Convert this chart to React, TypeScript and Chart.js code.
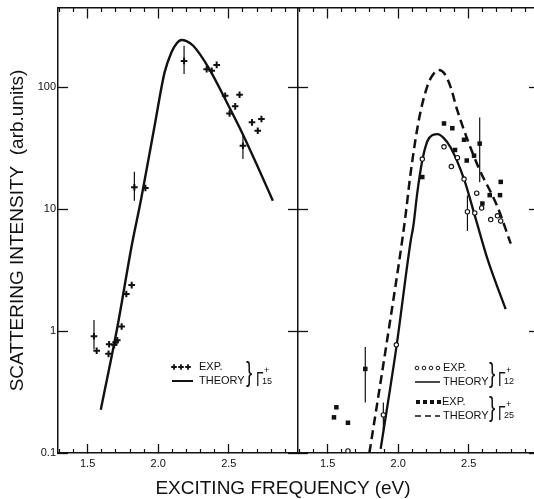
import React, { useEffect, useRef } from "react";
import { Chart, registerables } from "chart.js";

Chart.register(...registerables);

const FONT = "'Liberation Sans', Arial, Helvetica, sans-serif";
const BLACK = "#111";

// ---------- axes ----------
const yMin = 0.1;
const yMax = 445;
const yTickValues = [0.1, 1, 10, 100];
const yTickLabels = ["0.1", "1", "10", "100"];
const xMajorTicks = [1.5, 2.0, 2.5];
const xTickLabels = ["1.5", "2.0", "2.5"];
const xMinorTicks = [1.3, 1.4, 1.6, 1.7, 1.8, 1.9, 2.1, 2.2, 2.3, 2.4, 2.6, 2.7, 2.8, 2.9];
const leftXRange = [1.29, 2.99];
const rightXRange = [1.29, 2.97];

// ---------- left panel: Γ15+ ----------
const g15ExpX = [1.545, 1.564, 1.648, 1.652, 1.688, 1.698, 1.71, 1.741, 1.774, 1.812, 1.831, 1.909, 2.183, 2.343, 2.379, 2.414, 2.474, 2.505, 2.545, 2.576, 2.6, 2.664, 2.705, 2.731];
const g15ExpY = [0.906, 0.69, 0.65, 0.78, 0.77, 0.81, 0.84, 1.09, 2.01, 2.38, 15.1, 14.9, 164, 140, 136, 152, 85, 60.8, 69.5, 86.5, 33, 51.4, 43.9, 54.7];
const g15ErrX = [1.545, 1.831, 2.183, 2.6];
const g15ErrLo = [0.71, 11.7, 128, 25.7];
const g15ErrHi = [1.23, 20.2, 218, 41.2];
const g15TheoryX = [1.593, 1.712, 1.812, 1.879, 1.974, 2.045, 2.093, 2.13, 2.164, 2.2, 2.248, 2.355, 2.498, 2.593, 2.712, 2.812];
const g15TheoryY = [0.226, 1.1, 5.0, 12.1, 48, 132, 192, 228, 243, 238, 218, 145, 70.3, 42.5, 21.3, 11.7];

// ---------- right panel: Γ12+ and Γ25+ ----------
const g12ExpX = [1.644, 1.895, 1.987, 2.171, 2.325, 2.377, 2.42, 2.467, 2.491, 2.543, 2.557, 2.592, 2.656, 2.704, 2.727];
const g12ExpY = [0.104, 0.205, 0.77, 25.7, 32.4, 22.3, 26.4, 17.6, 9.5, 9.3, 13.5, 10.2, 8.2, 8.8, 8.0];
const g12ErrX = [1.895, 2.491];
const g12ErrLo = [0.155, 6.6];
const g12ErrHi = [0.26, 12.9];
const g12TheoryX = [1.876, 1.989, 2.089, 2.108, 2.136, 2.171, 2.207, 2.245, 2.28, 2.32, 2.372, 2.467, 2.55, 2.633, 2.762];
const g12TheoryY = [0.108, 0.76, 5.5, 7.3, 13.7, 25, 36, 40.5, 41.2, 38.5, 32, 17.6, 8.3, 3.9, 1.51];

const g25ExpX = [1.545, 1.562, 1.644, 1.767, 2.171, 2.325, 2.384, 2.403, 2.467, 2.486, 2.538, 2.578, 2.597, 2.649, 2.722, 2.727];
const g25ExpY = [0.196, 0.237, 0.177, 0.489, 18.3, 50.3, 46, 30.5, 37, 25, 27.4, 34.4, 11.1, 13, 13, 16.7];
const g25ErrX = [1.767, 2.578];
const g25ErrLo = [0.26, 16.6];
const g25ErrHi = [0.74, 56.4];
const g25TheoryX = [1.796, 1.923, 2.03, 2.053, 2.089, 2.148, 2.207, 2.25, 2.289, 2.33, 2.372, 2.42, 2.562, 2.703, 2.798];
const g25TheoryY = [0.1, 0.86, 5.67, 9, 20, 54.7, 102, 128, 138, 128, 100, 64, 23, 10.5, 5.2];

// ---------- helpers ----------
function pts(xs: number[], ys: number[]) {
  return xs.map((x, i) => ({ x, y: ys[i] }));
}
function errSegs(xs: number[], lo: number[], hi: number[]) {
  const out: any[] = [];
  xs.forEach((x, i) => {
    out.push({ x, y: lo[i] }, { x, y: hi[i] }, { x, y: null });
  });
  return out;
}
const setTicks = (vals: number[]) => (s: any) => {
  s.ticks = vals.map((v) => ({ value: v }));
};
const noPad = (s: any) => {
  s.paddingTop = 0;
  s.paddingBottom = 0;
  s.paddingLeft = 0;
  s.paddingRight = 0;
};

function buildScales(range: number[], o: { leftWidth: number; rightWidth: number; labels: boolean; leftBorder: boolean; rightTick: number; title?: string }) {
  const xBase = { type: "linear", axis: "x", min: range[0], max: range[1], afterFit: noPad };
  const yBase = { type: "logarithmic", axis: "y", min: yMin, max: yMax };
  return {
    x: {
      ...xBase,
      position: "bottom",
      afterBuildTicks: setTicks(xMajorTicks),
      ticks: {
        autoSkip: false,
        maxRotation: 0,
        padding: 13,
        color: BLACK,
        font: { size: 11, family: FONT },
        callback: (v: number) => {
          const i = xMajorTicks.indexOf(v);
          return i >= 0 ? xTickLabels[i] : "";
        },
      },
      grid: { drawOnChartArea: false, drawTicks: true, tickLength: -9, tickColor: BLACK, tickWidth: 1.3 },
      border: { display: true, color: BLACK, width: 1.5 },
      afterFit: (s: any) => {
        noPad(s);
        s.height = 46;
      },
    },
    xMinor: {
      ...xBase,
      position: { y: yMin },
      afterBuildTicks: setTicks(xMinorTicks),
      ticks: { display: false },
      grid: { drawOnChartArea: false, drawTicks: true, tickLength: -4, tickColor: BLACK, tickWidth: 1.2 },
      border: { display: false },
    },
    xTop: {
      ...xBase,
      position: { y: yMax },
      afterBuildTicks: setTicks(xMajorTicks),
      ticks: { display: false },
      grid: { drawOnChartArea: false, drawTicks: true, tickLength: 10, tickColor: BLACK, tickWidth: 1.3 },
      border: { display: true, color: BLACK, width: 1.5 },
    },
    xTopMinor: {
      ...xBase,
      position: { y: yMax },
      afterBuildTicks: setTicks(xMinorTicks),
      ticks: { display: false },
      grid: { drawOnChartArea: false, drawTicks: true, tickLength: 4, tickColor: BLACK, tickWidth: 1.2 },
      border: { display: false },
    },
    y: {
      ...yBase,
      position: "left",
      afterBuildTicks: setTicks(yTickValues),
      ticks: {
        display: o.labels,
        padding: 12,
        color: BLACK,
        font: { size: 11, family: FONT },
        callback: (v: number) => {
          const i = yTickValues.indexOf(v);
          return i >= 0 ? yTickLabels[i] : "";
        },
      },
      grid: { drawOnChartArea: false, drawTicks: true, tickLength: -10, tickColor: BLACK, tickWidth: 1.3 },
      border: { display: o.leftBorder, color: BLACK, width: 1.5 },
      title: o.title
        ? { display: true, text: o.title, color: BLACK, font: { size: 19, family: FONT }, padding: { top: 6, bottom: 0 } }
        : { display: false },
      afterFit: (s: any) => {
        noPad(s);
        s.width = o.leftWidth;
      },
    },
    y2: {
      ...yBase,
      position: "right",
      afterBuildTicks: setTicks(yTickValues),
      ticks: { display: false },
      grid: { drawOnChartArea: false, drawTicks: true, tickLength: -o.rightTick, tickColor: BLACK, tickWidth: 1.3 },
      border: { display: true, color: BLACK, width: 1.5 },
      afterFit: (s: any) => {
        noPad(s);
        s.width = o.rightWidth;
      },
    },
  };
}

// ---------- legend drawing ----------
function txt(ctx: CanvasRenderingContext2D, s: string, x: number, y: number, size: number) {
  ctx.save();
  ctx.fillStyle = BLACK;
  ctx.font = `${size}px ${FONT}`;
  ctx.textAlign = "left";
  ctx.textBaseline = "middle";
  ctx.fillText(s, x, y);
  ctx.restore();
}
function brace(ctx: CanvasRenderingContext2D, x: number, y: number) {
  ctx.save();
  ctx.translate(x, y);
  ctx.scale(0.7, 1);
  ctx.fillStyle = BLACK;
  ctx.font = `27px ${FONT}`;
  ctx.textBaseline = "middle";
  ctx.fillText("}", 0, 0);
  ctx.restore();
}
function gamma(ctx: CanvasRenderingContext2D, x: number, base: number, sub: string) {
  ctx.save();
  ctx.translate(x, base);
  ctx.scale(0.65, 1);
  ctx.fillStyle = BLACK;
  ctx.font = `21px ${FONT}`;
  ctx.textBaseline = "alphabetic";
  ctx.fillText("Γ", 0, 0);
  ctx.restore();
  txt(ctx, sub, x + 6, base - 4, 9);
  txt(ctx, "+", x + 8, base - 15, 9);
}
function hline(ctx: CanvasRenderingContext2D, x1: number, x2: number, y: number, w: number, dash: number[] = []) {
  ctx.save();
  ctx.strokeStyle = BLACK;
  ctx.lineWidth = w;
  ctx.setLineDash(dash);
  ctx.beginPath();
  ctx.moveTo(x1, y);
  ctx.lineTo(x2, y);
  ctx.stroke();
  ctx.restore();
}

const leftLegend = {
  id: "leftLegend",
  afterDraw(chart: any) {
    const ctx = chart.ctx as CanvasRenderingContext2D;
    ctx.save();
    ctx.strokeStyle = BLACK;
    ctx.lineWidth = 1.8;
    [174, 181, 188].forEach((cx) => {
      ctx.beginPath();
      ctx.moveTo(cx - 2.8, 367);
      ctx.lineTo(cx + 2.8, 367);
      ctx.moveTo(cx, 364.2);
      ctx.lineTo(cx, 369.8);
      ctx.stroke();
    });
    ctx.restore();
    txt(ctx, "EXP.", 199, 367, 11);
    hline(ctx, 172, 193, 381, 2);
    txt(ctx, "THEORY", 199, 381, 11);
    brace(ctx, 246, 374);
    gamma(ctx, 256, 386, "15");
  },
};

const OFF = 290;
const rightLegend = {
  id: "rightLegend",
  afterDraw(chart: any) {
    const ctx = chart.ctx as CanvasRenderingContext2D;
    ctx.save();
    ctx.strokeStyle = BLACK;
    ctx.fillStyle = "#fff";
    ctx.lineWidth = 1;
    [417, 424, 431, 438].forEach((cx) => {
      ctx.beginPath();
      ctx.arc(cx - OFF, 368, 1.8, 0, Math.PI * 2);
      ctx.fill();
      ctx.stroke();
    });
    ctx.fillStyle = BLACK;
    [418, 425, 432, 439].forEach((cx) => {
      ctx.fillRect(cx - OFF - 2, 400, 4, 4);
    });
    ctx.restore();
    txt(ctx, "EXP.", 443 - OFF, 368, 11);
    hline(ctx, 415 - OFF, 440 - OFF, 382, 1.5);
    txt(ctx, "THEORY", 443 - OFF, 382, 11);
    brace(ctx, 489 - OFF, 375);
    gamma(ctx, 498 - OFF, 386, "12");

    txt(ctx, "EXP.", 442 - OFF, 402, 11);
    hline(ctx, 415 - OFF, 440 - OFF, 416, 1.5, [6, 4]);
    txt(ctx, "THEORY", 443 - OFF, 416, 11);
    brace(ctx, 489 - OFF, 409);
    gamma(ctx, 498 - OFF, 420, "25");
  },
};

const lineDs = (data: any[], width: number, dash: number[] = []) => ({
  type: "line",
  data,
  showLine: true,
  borderColor: BLACK,
  borderWidth: width,
  borderDash: dash,
  pointRadius: 0,
  fill: false,
  cubicInterpolationMode: "monotone",
  order: 3,
});
const errDs = (data: any[]) => ({
  type: "line",
  data,
  showLine: true,
  borderColor: BLACK,
  borderWidth: 1.2,
  pointRadius: 0,
  spanGaps: false,
  fill: false,
  order: 2,
});

export default function App() {
  const leftRef = useRef<HTMLCanvasElement>(null);
  const rightRef = useRef<HTMLCanvasElement>(null);

  useEffect(() => {
    const common = {
      responsive: false,
      animation: false,
      devicePixelRatio: 1,
      layout: { padding: { top: 8, left: 0, right: 0, bottom: 0 }, autoPadding: false },
      plugins: { legend: { display: false }, tooltip: { enabled: false }, title: { display: false } },
    };

    const left = new Chart(leftRef.current as HTMLCanvasElement, {
      type: "line",
      data: {
        datasets: [
          lineDs(pts(g15TheoryX, g15TheoryY), 2.4),
          errDs(errSegs(g15ErrX, g15ErrLo, g15ErrHi)),
          {
            type: "line",
            data: pts(g15ExpX, g15ExpY),
            showLine: false,
            pointStyle: "cross",
            pointRadius: 3.3,
            borderWidth: 2,
            borderColor: BLACK,
            backgroundColor: BLACK,
            order: 1,
          },
        ],
      },
      options: {
        ...common,
        scales: buildScales(leftXRange, {
          leftWidth: 58,
          rightWidth: 2,
          labels: true,
          leftBorder: true,
          rightTick: 10,
          title: "SCATTERING INTENSITY  (arb.units)",
        }),
      } as any,
      plugins: [leftLegend],
    } as any);

    const right = new Chart(rightRef.current as HTMLCanvasElement, {
      type: "line",
      data: {
        datasets: [
          lineDs(pts(g25TheoryX, g25TheoryY), 2.5, [9, 5]),
          lineDs(pts(g12TheoryX, g12TheoryY), 2.3),
          errDs(errSegs(g12ErrX, g12ErrLo, g12ErrHi)),
          errDs(errSegs(g25ErrX, g25ErrLo, g25ErrHi)),
          {
            type: "line",
            data: pts(g12ExpX, g12ExpY),
            showLine: false,
            pointStyle: "circle",
            pointRadius: 2.2,
            borderWidth: 1.1,
            borderColor: BLACK,
            backgroundColor: "#fff",
            order: 1,
          },
          {
            type: "line",
            data: pts(g25ExpX, g25ExpY),
            showLine: false,
            pointStyle: "rect",
            pointRadius: 3.2,
            borderWidth: 0,
            borderColor: BLACK,
            backgroundColor: BLACK,
            order: 1,
          },
        ],
      },
      options: {
        ...common,
        scales: buildScales(rightXRange, {
          leftWidth: 8,
          rightWidth: 5,
          labels: false,
          leftBorder: false,
          rightTick: 6,
        }),
      } as any,
      plugins: [rightLegend],
    } as any);

    return () => {
      left.destroy();
      right.destroy();
    };
  }, []);

  return (
    <div
      style={{
        position: "absolute",
        left: 0,
        top: 0,
        width: 534,
        height: 499,
        overflow: "hidden",
        background: "#fff",
      }}
    >
      <canvas ref={leftRef} width={300} height={499} style={{ position: "absolute", left: 0, top: 0 }} />
      <canvas ref={rightRef} width={250} height={499} style={{ position: "absolute", left: OFF, top: 0 }} />
      <div
        style={{
          position: "absolute",
          left: 133,
          top: 477,
          width: 300,
          textAlign: "center",
          fontFamily: FONT,
          fontSize: 19,
          lineHeight: "22px",
          color: BLACK,
          whiteSpace: "nowrap",
        }}
      >
        EXCITING FREQUENCY (eV)
      </div>
    </div>
  );
}
